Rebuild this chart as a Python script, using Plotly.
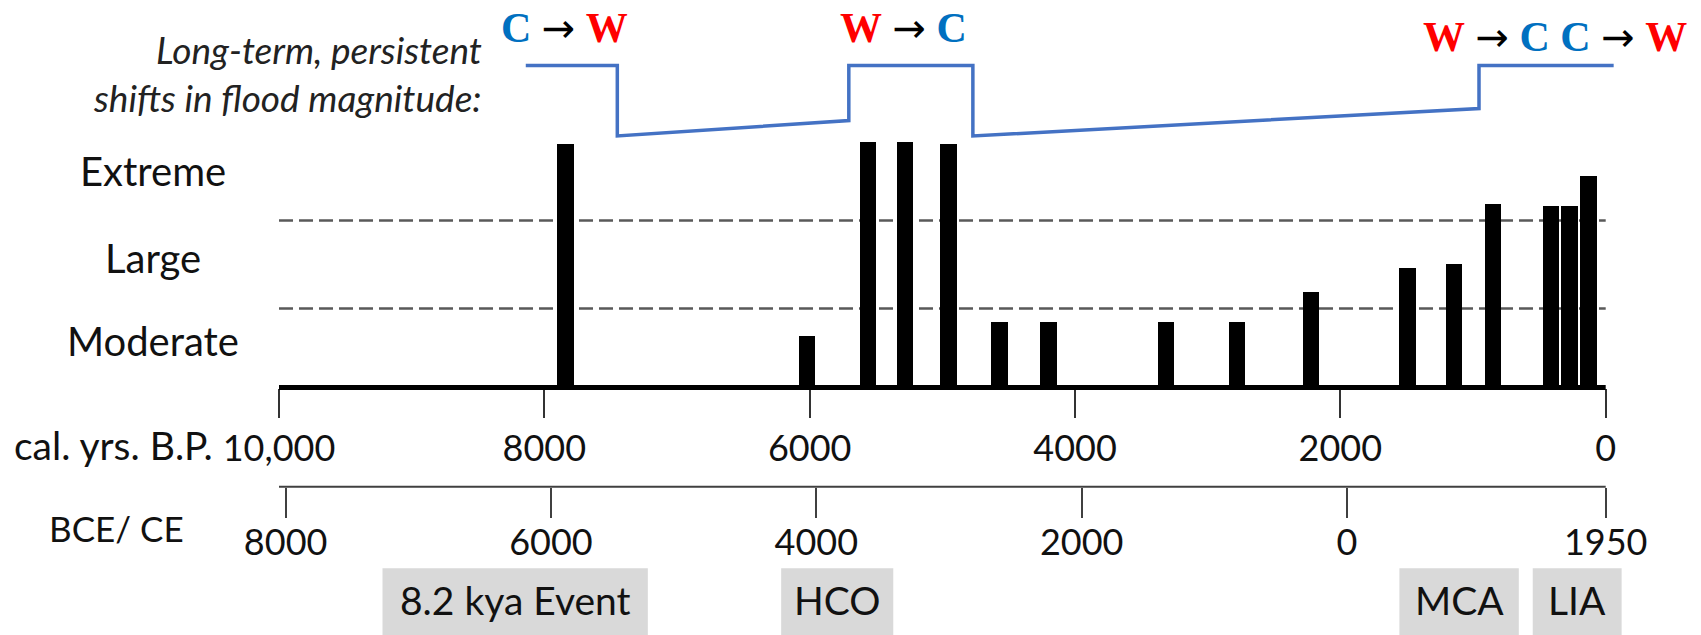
import plotly.graph_objects as go

FIG_W, FIG_H = 1701, 635

# Flood events: age (cal. yr BP) and relative magnitude index
event_age_bp = [7840, 6020, 5560, 5280, 4955, 4570, 4200, 3315, 2780,
                2220, 1495, 1145, 850, 411, 274, 130]
event_magnitude = [24.4, 5.2, 24.6, 24.6, 24.4, 6.6, 6.6, 6.6, 6.6,
                   9.6, 12.0, 12.4, 18.4, 18.2, 18.2, 21.2]
bar_width_yrs = 124

# Magnitude class boundaries and class labels
class_bounds = [7.9, 16.7]
class_labels = ["Moderate", "Large", "Extreme"]
class_label_level = [4.7, 13.0, 21.7]

# Long-term persistent shift curve
shift_age_bp = [8140, 7450, 7450, 5705, 5705, 4770, 4770, 955, 955, -60]
shift_level = [32.2, 32.2, 25.15, 26.7, 32.2, 32.2, 25.15, 27.9, 32.2, 32.2]

# Transitions (C = cool, W = warm)
transition_text = ["C → W", "W → C", "W → C C → W"]
transition_age_bp = [7845, 5294, 382]
transition_level = [36.0, 36.0, 35.05]

# Time axes
bp_ticks = [10000, 8000, 6000, 4000, 2000, 0]
bp_ticktext = ["10,000", "8000", "6000", "4000", "2000", "0"]
ce_ticks = [-8000, -6000, -4000, -2000, 0, 1950]
ce_ticktext = ["8000", "6000", "4000", "2000", "0", "1950"]
BP_ZERO_CE = 1950

# Climate periods (cal. yr BP)
period_names = ["8.2 kya Event", "HCO", "MCA", "LIA"]
period_start_bp = [9220, 6215, 1555, 550]
period_end_bp = [7220, 5370, 655, -120]

X_RANGE_BP = [12103, -718.3]
Y_RANGE = [-24.75, 38.75]
BASE_Y_PX = 387.5
CE_AXIS_Y_PX = 486.7

FONT = "Lato"
TXT = "#111111"
COLD = "#0070C0"
WARM = "#FF0000"


def px_to_paper_y(py):
    return 1 - py / FIG_H


def px_to_paper_x(px):
    return px / FIG_W


def colour_transition(s):
    out = []
    for ch in s:
        if ch == "C":
            out.append(f"<b><span style='color:{COLD}'>C</span></b>")
        elif ch == "W":
            out.append(f"<b><span style='color:{WARM}'>W</span></b>")
        elif ch == "→":
            out.append("<span style='font-family:\"DejaVu Sans\";font-size:40px'>→</span>")
        else:
            out.append(ch)
    return "".join(out)


fig = go.Figure()

fig.add_trace(go.Bar(
    x=event_age_bp, y=event_magnitude, width=bar_width_yrs,
    marker=dict(color="black", line=dict(width=0)),
    xaxis="x", yaxis="y", hoverinfo="skip",
))

fig.add_trace(go.Scatter(
    x=shift_age_bp, y=shift_level, mode="lines",
    line=dict(color="#4472C4", width=3.5),
    xaxis="x", yaxis="y", hoverinfo="skip",
))

# empty trace so the calendar (BCE/CE) axis is drawn
fig.add_trace(go.Scatter(
    x=ce_ticks, y=[None] * len(ce_ticks), mode="markers",
    xaxis="x2", yaxis="y", hoverinfo="skip",
))

shapes = []
# dashed class boundaries
for b in class_bounds:
    shapes.append(dict(type="line", xref="x", yref="y",
                       x0=bp_ticks[0], x1=bp_ticks[-1], y0=b, y1=b,
                       line=dict(color="#595959", width=2.5, dash="14px,6px"),
                       layer="below"))
# baseline of the event record
shapes.append(dict(type="line", xref="x", yref="y",
                   x0=bp_ticks[0], x1=bp_ticks[-1], y0=0, y1=0,
                   line=dict(color="black", width=5), layer="above"))
# calendar axis line
shapes.append(dict(type="line", xref="x", yref="paper",
                   x0=bp_ticks[0], x1=bp_ticks[-1],
                   y0=px_to_paper_y(CE_AXIS_Y_PX), y1=px_to_paper_y(CE_AXIS_Y_PX),
                   line=dict(color="#404040", width=2)))
# climate period boxes
for s, e in zip(period_start_bp, period_end_bp):
    shapes.append(dict(type="rect", xref="x", yref="paper",
                       x0=s, x1=e, y0=0, y1=px_to_paper_y(568.3),
                       fillcolor="#D9D9D9", line=dict(width=0), layer="below"))

annotations = []
for name, s, e in zip(period_names, period_start_bp, period_end_bp):
    annotations.append(dict(text=name, xref="x", yref="paper",
                            x=(s + e) / 2, y=px_to_paper_y(600),
                            xanchor="center", yanchor="middle", showarrow=False,
                            font=dict(family=FONT, size=39, color=TXT)))
for lab, lvl in zip(class_labels, class_label_level):
    annotations.append(dict(text=lab, xref="paper", yref="y",
                            x=px_to_paper_x(153), y=lvl,
                            xanchor="center", yanchor="middle", showarrow=False,
                            font=dict(family=FONT, size=40, color=TXT)))
for t, a, lvl in zip(transition_text, transition_age_bp, transition_level):
    annotations.append(dict(text=colour_transition(t), xref="x", yref="y",
                            x=a, y=lvl, xanchor="center", yanchor="middle",
                            showarrow=False,
                            font=dict(family="Liberation Serif", size=42, color="black")))
annotations.append(dict(text="<i>Long-term, persistent</i>", xref="paper", yref="paper",
                        x=px_to_paper_x(484), y=px_to_paper_y(50),
                        xanchor="right", yanchor="middle", showarrow=False,
                        font=dict(family=FONT, size=37, color="#222222")))
annotations.append(dict(text="<i>shifts in flood magnitude:</i>", xref="paper", yref="paper",
                        x=px_to_paper_x(484), y=px_to_paper_y(97),
                        xanchor="right", yanchor="middle", showarrow=False,
                        font=dict(family=FONT, size=37, color="#222222")))
annotations.append(dict(text="cal. yrs. B.P.", xref="paper", yref="paper",
                        x=px_to_paper_x(215), y=px_to_paper_y(445),
                        xanchor="right", yanchor="middle", showarrow=False,
                        font=dict(family=FONT, size=39, color=TXT)))
annotations.append(dict(text="BCE/ CE", xref="paper", yref="paper",
                        x=px_to_paper_x(116), y=px_to_paper_y(528),
                        xanchor="center", yanchor="middle", showarrow=False,
                        font=dict(family=FONT, size=35, color=TXT)))

fig.update_layout(
    width=FIG_W, height=FIG_H,
    margin=dict(l=0, r=0, t=0, b=0),
    paper_bgcolor="white", plot_bgcolor="white",
    showlegend=False,
    xaxis=dict(range=X_RANGE_BP, domain=[0, 1], anchor="free",
               position=px_to_paper_y(BASE_Y_PX),
               showline=False, showgrid=False, zeroline=False,
               tickmode="array", tickvals=bp_ticks, ticktext=bp_ticktext,
               ticks="outside", ticklen=29, tickwidth=1.5, tickcolor="#333333",
               tickfont=dict(family=FONT, size=36, color=TXT)),
    xaxis2=dict(range=[BP_ZERO_CE - X_RANGE_BP[0], BP_ZERO_CE - X_RANGE_BP[1]],
                overlaying="x", anchor="free", side="bottom",
                position=px_to_paper_y(CE_AXIS_Y_PX),
                showline=False, showgrid=False, zeroline=False,
                tickmode="array", tickvals=ce_ticks, ticktext=ce_ticktext,
                ticks="outside", ticklen=30, tickwidth=1.5, tickcolor="#404040",
                ticklabelstandoff=-6,
                tickfont=dict(family=FONT, size=36, color=TXT)),
    yaxis=dict(range=Y_RANGE, domain=[0, 1], visible=False, fixedrange=True),
    shapes=shapes,
    annotations=annotations,
    bargap=0,
)

fig.write_html("out.html")
